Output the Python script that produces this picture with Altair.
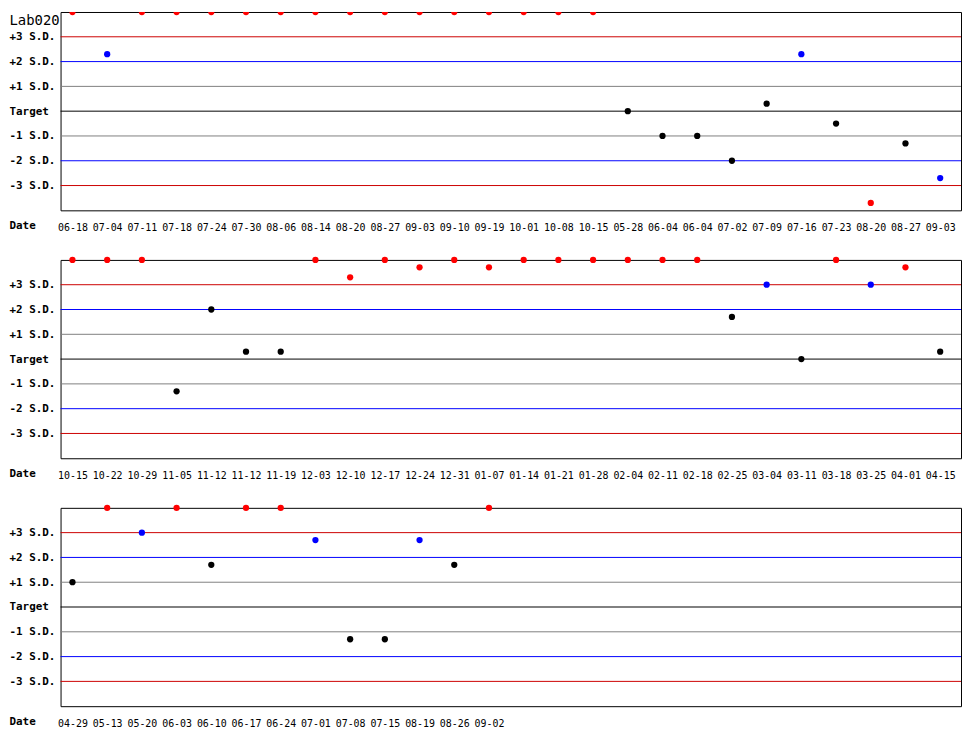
import json

import altair as alt
import pandas as pd

# control levels (in S.D. units) and their names / line colours
levels = [3, 2, 1, 0, -1, -2, -3]
level_names = ["-3 S.D.", "-2 S.D.", "-1 S.D.", "Target", "+1 S.D.", "+2 S.D.", "+3 S.D."]
level_colours = ["#cc0000", "#0000ff", "#808080", "#000000", "#808080", "#0000ff", "#cc0000"]

# panel 1
p1_dates = ["06-18", "07-04", "07-11", "07-18", "07-24", "07-30", "08-06", "08-14",
            "08-20", "08-27", "09-03", "09-10", "09-19", "10-01", "10-08", "10-15",
            "05-28", "06-04", "06-04", "07-02", "07-09", "07-16", "07-23", "08-20",
            "08-27", "09-03"]
p1_sd = [4, 2.3, 4, 4, 4, 4, 4, 4, 4, 4, 4, 4, 4, 4, 4, 4,
         0, -1, -1, -2, 0.3, 2.3, -0.5, -3.7, -1.3, -2.7]
p1_flag = ["r", "b", "r", "r", "r", "r", "r", "r", "r", "r", "r", "r", "r", "r", "r", "r",
           "k", "k", "k", "k", "k", "b", "k", "r", "k", "b"]

# panel 2
p2_dates = ["10-15", "10-22", "10-29", "11-05", "11-12", "11-12", "11-19", "12-03",
            "12-10", "12-17", "12-24", "12-31", "01-07", "01-14", "01-21", "01-28",
            "02-04", "02-11", "02-18", "02-25", "03-04", "03-11", "03-18", "03-25",
            "04-01", "04-15"]
p2_sd = [4, 4, 4, -1.3, 2, 0.3, 0.3, 4, 3.3, 4, 3.7, 4, 3.7, 4, 4, 4,
         4, 4, 4, 1.7, 3, 0, 4, 3, 3.7, 0.3]
p2_flag = ["r", "r", "r", "k", "k", "k", "k", "r", "r", "r", "r", "r", "r", "r", "r", "r",
           "r", "r", "r", "k", "b", "k", "r", "b", "r", "k"]

# panel 3
p3_dates = ["04-29", "05-13", "05-20", "06-03", "06-10", "06-17", "06-24", "07-01",
            "07-08", "07-15", "08-19", "08-26", "09-02"]
p3_sd = [1, 4, 3, 4, 1.7, 4, 4, 2.7, -1.3, -1.3, 2.7, 1.7, 4]
p3_flag = ["k", "r", "b", "r", "k", "r", "r", "b", "k", "k", "b", "k", "r"]

MONO = "DejaVu Sans Mono"
W, H = 908, 200
LEFT = 52  # room for the S.D. labels (page margin adds 8 more)
x_dom = [-12 / 35, (W - 12) / 35]


def panel(dates, sd, flag, title=None, clip=False):
    df = pd.DataFrame({"idx": range(len(dates)), "date": dates, "sd": sd, "flag": flag})

    y_axis = dict(
        values=levels, labelExpr=f"{json.dumps(level_names)}[datum.value + 3]",
        grid=False, domain=False, ticks=False, tickSize=0, labelPadding=LEFT,
        labelAlign="left", labelBaseline="middle", labelFont=MONO, labelFontSize=11,
        labelFontWeight="bold", labelColor="black", labelOverlap=False,
    )
    if title:
        y_axis.update(titleAngle=0, titleX=-LEFT, titleY=9, titleAlign="left",
                      titleBaseline="middle", titleFont=MONO, titleFontSize=14,
                      titleFontWeight="normal", titleColor="black")
    y_scale = alt.Scale(domain=[-4, 4], nice=False, zero=False)

    def y_enc(field):
        return alt.Y(field, scale=y_scale, axis=alt.Axis(**y_axis), title=title)

    # one rule per control level, each in its own colour
    rules = [
        alt.Chart(pd.DataFrame({"level": [lv]})).mark_rule(color=c, strokeWidth=1)
        .encode(y=y_enc("level:Q"))
        for lv, c in zip(levels, level_colours)
    ]

    points = alt.Chart(df).mark_circle(size=40, opacity=1, clip=clip).encode(
        x=alt.X("idx:Q", scale=alt.Scale(domain=x_dom, nice=False, zero=False),
                axis=alt.Axis(values=list(range(len(dates))),
                              labelExpr=f"{json.dumps(dates)}[datum.value]",
                              grid=False, domain=False, ticks=False, tickSize=0,
                              labelPadding=17, labelBaseline="middle", labelFont=MONO,
                              labelFontSize=10, labelColor="black", labelOverlap=False,
                              title="Date", titleX=-LEFT, titleY=15, titleAlign="left",
                              titleBaseline="middle", titleAngle=0, titleFont=MONO,
                              titleFontSize=11, titleFontWeight="bold", titleColor="black")),
        y=y_enc("sd:Q"),
        color=alt.Color("flag:N", scale=alt.Scale(domain=["k", "b", "r"],
                                                  range=["#000000", "#0000ff", "#ff0000"]),
                        legend=None),
    )

    return alt.layer(*rules, points).properties(width=W, height=H)


chart = alt.vconcat(
    panel(p1_dates, p1_sd, p1_flag, "Lab020", clip=True),
    panel(p2_dates, p2_sd, p2_flag),
    panel(p3_dates, p3_sd, p3_flag),
    spacing=50, bounds="flush",
).resolve_scale(x="independent").configure(
    padding=0, background="white"
).configure_axis(
    grid=False, labelOverlap=False
).configure_view(stroke="black", strokeWidth=1)

chart.save("out.html", embed_options={"renderer": "svg", "actions": False})
